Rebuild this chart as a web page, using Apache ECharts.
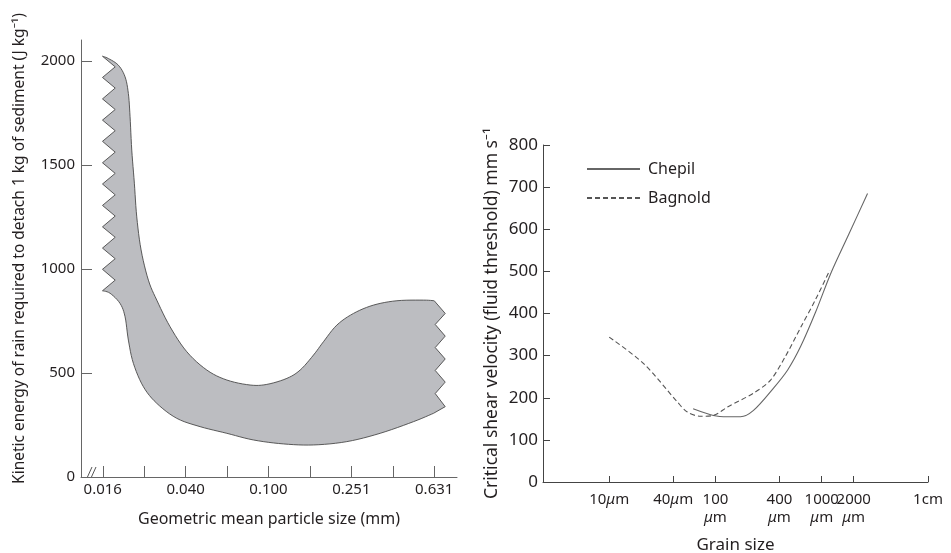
<!DOCTYPE html>
<html><head><meta charset="utf-8">
<script src="https://cdn.jsdelivr.net/npm/echarts@6/dist/echarts.min.js"></script>
<style>html,body{margin:0;padding:0;background:#fff}#c{width:951px;height:553px}</style>
</head><body><div id="c"></div>
<script>
// ---------- Left panel: band of kinetic energy (x in mm, y in J/kg) ----------
// upper boundary, left -> right
const upperMM = [0.0158, 0.01687, 0.01885, 0.02031, 0.02107, 0.02147, 0.02188, 0.02252, 0.02313, 0.02427, 0.02632, 0.02889, 0.0335, 0.04033, 0.05039, 0.06294, 0.08153, 0.09817, 0.1227, 0.1422, 0.1649, 0.1842, 0.2138, 0.2572, 0.3212, 0.4168, 0.5602, 0.631];
const upperE  = [2022, 2011, 1979, 1923, 1843, 1731, 1571, 1412, 1250, 1091, 946, 850, 722, 602, 514, 466, 442, 445, 474, 514, 586, 650, 730, 786, 826, 847, 850, 847];
// right broken edge, top -> bottom
const rightEdgeMM = [0.713, 0.638, 0.713, 0.638, 0.713, 0.638, 0.713, 0.638, 0.713];
const rightEdgeE  = [786, 733, 677, 622, 567, 512, 456, 401, 338];
// lower boundary, right -> left (ends at the lower-left tip)
const lowerMM = [0.626, 0.5012, 0.346, 0.2389, 0.1649, 0.1181, 0.08457, 0.06294, 0.04677, 0.03608, 0.02889, 0.02489, 0.02228, 0.02107, 0.02031, 0.01921, 0.01719, 0.0158];
const lowerE  = [306, 266, 210, 170, 154, 159, 178, 210, 242, 282, 354, 434, 546, 658, 770, 834, 883, 895];
// left broken edge, bottom -> top
const leftEdgeMM = [0.0182, 0.0158, 0.0182, 0.0158, 0.0182, 0.0158, 0.0182, 0.0158, 0.0182, 0.0158, 0.0182, 0.0158, 0.0182, 0.0158, 0.0182, 0.0158, 0.0182, 0.0158, 0.0182, 0.0158, 0.0182];
const leftEdgeE  = [946, 998, 1049, 1100, 1152, 1202, 1254, 1305, 1356, 1408, 1459, 1510, 1561, 1613, 1664, 1715, 1766, 1817, 1869, 1920, 1971];

const leftXTickLog = [-1.8, -1.6, -1.4, -1.2, -1.0, -0.8, -0.6, -0.4, -0.2];
const leftXLabelLog = [-1.8, -1.4, -1.0, -0.6, -0.2];
const leftXLabels = ['0.016', '0.040', '0.100', '0.251', '0.631'];
const leftYTicks = [0, 500, 1000, 1500, 2000];

// ---------- Right panel: critical shear velocity (x in µm, y in mm/s) ----------
const chepilUm = [61.6, 95.7, 130, 172, 228, 352, 478, 634, 878, 1216, 1797, 2698];
const chepilV  = [174, 158, 155, 155, 170, 223, 266, 322, 404, 495, 588, 685];
const bagnoldUm = [10, 21.1, 43.8, 54.4, 72.2, 95.7, 129.8, 228, 330, 457, 634, 878, 1190];
const bagnoldV  = [344, 281, 190, 166, 156, 158, 178, 211, 242, 299, 367, 434, 503];

const rightXTickUm = [10, 40, 100, 400, 1000, 2000, 10000];
const rightXLabels = ['10μm', '40μm', '100\nμm', '400\nμm', '1000\nμm', '2000\nμm', '1cm'];
const rightYTicks = [0, 100, 200, 300, 400, 500, 600, 700, 800];

const FONT = 'Noto Sans';
const TXT = '#231f20';
const lg = Math.log10;

// Catmull-Rom densification in pixel space (for a smooth outline)
function spline(pts, n) {
  const out = [];
  for (let i = 0; i < pts.length - 1; i++) {
    const p0 = pts[Math.max(i - 1, 0)], p1 = pts[i], p2 = pts[i + 1], p3 = pts[Math.min(i + 2, pts.length - 1)];
    for (let s = 0; s < n; s++) {
      const t = s / n, t2 = t * t, t3 = t2 * t;
      out.push([0, 1].map(k => 0.5 * ((2 * p1[k]) + (-p0[k] + p2[k]) * t +
        (2 * p0[k] - 5 * p1[k] + 4 * p2[k] - p3[k]) * t2 + (-p0[k] + 3 * p1[k] - 3 * p2[k] + p3[k]) * t3)));
    }
  }
  out.push(pts[pts.length - 1]);
  return out;
}

function matchLabel(v, vals, labels) {
  for (let i = 0; i < vals.length; i++) if (Math.abs(vals[i] - v) < 1e-6) return labels[i];
  return '';
}

const chart = echarts.init(document.getElementById('c'), null, {renderer: 'canvas'});
const option = {
  backgroundColor: '#fff',
  animation: false,
  textStyle: {fontFamily: FONT, color: TXT},
  grid: [
    {left: 81, width: 376, top: 40, bottom: 76, outerBoundsMode: 'none', containLabel: false},
    {left: 543, width: 385, top: 145, bottom: 71, outerBoundsMode: 'none', containLabel: false}
  ],
  legend: {
    data: ['Chepil', 'Bagnold'],
    orient: 'vertical', left: 581, top: 156,
    itemWidth: 53, itemHeight: 12, itemGap: 13,
    itemStyle: {opacity: 0},
    textStyle: {fontFamily: FONT, fontSize: 16, color: TXT, padding: [0, 0, 0, 3]}
  },
  xAxis: [
    {
      gridIndex: 0, type: 'value', min: -1.905, max: -0.09,
      name: 'Geometric mean particle size (mm)', nameLocation: 'middle', nameGap: 34,
      nameTextStyle: {fontFamily: FONT, fontSize: 16, color: TXT},
      axisLine: {show: true, lineStyle: {color: '#666', width: 1}},
      axisTick: {show: true, inside: true, length: 11, customValues: leftXTickLog, lineStyle: {color: '#666'}},
      axisLabel: {show: true, margin: 5, fontSize: 15, color: TXT, fontFamily: FONT, customValues: leftXLabelLog,
        formatter: v => matchLabel(v, leftXLabelLog, leftXLabels)},
      splitLine: {show: false}
    },
    {
      gridIndex: 1, type: 'value', min: 0.377, max: 4,
      name: 'Grain size', nameLocation: 'middle', nameGap: 55,
      nameTextStyle: {fontFamily: FONT, fontSize: 17, color: TXT},
      axisLine: {show: true, lineStyle: {color: '#444', width: 1}},
      axisTick: {show: true, inside: true, length: 6, customValues: rightXTickUm.map(lg), lineStyle: {color: '#444'}},
      axisLabel: {show: true, margin: 9, fontSize: 15, color: TXT, fontFamily: FONT, lineHeight: 18,
        customValues: rightXTickUm.map(lg),
        formatter: v => matchLabel(v, rightXTickUm.map(lg), rightXLabels).replace(/μ/g, '{i|μ}'),
        rich: {i: {fontStyle: 'italic', fontSize: 15, fontFamily: FONT, color: TXT, lineHeight: 18}}},
      splitLine: {show: false}
    }
  ],
  yAxis: [
    {
      gridIndex: 0, type: 'value', min: 0, max: 2100,
      name: 'Kinetic energy of rain required to detach 1 kg of sediment (J kg⁻¹)',
      nameLocation: 'middle', nameGap: 53, nameRotate: 90,
      nameTextStyle: {fontFamily: FONT, fontSize: 15.5, color: TXT, padding: [0, 0, 0, 20]},
      axisLine: {show: true, lineStyle: {color: '#666', width: 1}},
      axisTick: {show: true, inside: true, length: 11, customValues: leftYTicks, lineStyle: {color: '#666'}},
      axisLabel: {show: true, margin: 6, fontSize: 15, color: TXT, fontFamily: FONT, customValues: leftYTicks,
        formatter: v => String(v)},
      splitLine: {show: false}
    },
    {
      gridIndex: 1, type: 'value', min: 0, max: 800,
      name: 'Critical shear velocity (fluid threshold) mm s⁻¹',
      nameLocation: 'middle', nameGap: 42, nameRotate: 90,
      nameTextStyle: {fontFamily: FONT, fontSize: 17.5, color: TXT},
      axisLine: {show: true, lineStyle: {color: '#444', width: 1}},
      axisTick: {show: true, inside: true, length: 7, customValues: rightYTicks, lineStyle: {color: '#444'}},
      axisLabel: {show: true, margin: 5, fontSize: 17, color: TXT, fontFamily: FONT, customValues: rightYTicks,
        formatter: v => String(v)},
      splitLine: {show: false}
    }
  ],
  series: [
    {
      type: 'custom', xAxisIndex: 0, yAxisIndex: 0, silent: true,
      data: [[lg(upperMM[0]), upperE[0]]],
      renderItem: function (params, api) {
        const c = (xs, ys) => xs.map((x, i) => api.coord([lg(x), ys[i]]));
        const pts = [].concat(
          spline(c(upperMM, upperE), 6),
          c(rightEdgeMM, rightEdgeE),
          spline(c(lowerMM, lowerE), 6),
          c(leftEdgeMM, leftEdgeE)
        );
        return {type: 'polygon', shape: {points: pts},
          style: {fill: '#bcbdc1', stroke: '#4a4a4a', lineWidth: 0.9}};
      }
    },
    {
      name: 'Chepil', type: 'line', xAxisIndex: 1, yAxisIndex: 1,
      data: chepilUm.map((u, i) => [lg(u), chepilV[i]]),
      symbol: 'none', smooth: 0.3,
      lineStyle: {color: '#666', width: 1.1, type: 'solid'}, itemStyle: {color: '#666'}
    },
    {
      name: 'Bagnold', type: 'line', xAxisIndex: 1, yAxisIndex: 1,
      data: bagnoldUm.map((u, i) => [lg(u), bagnoldV[i]]),
      symbol: 'none', smooth: 0.3,
      lineStyle: {color: '#555', width: 1.1, type: [5, 3]}, itemStyle: {color: '#555'}
    }
  ]
};
chart.setOption(option);

// axis break mark on the left x axis, placed from the axis' own scale
const o = chart.convertToPixel({xAxisIndex: 0, yAxisIndex: 0}, [-1.905, 0]);
chart.setOption({
  graphic: [
    {type: 'line', shape: {x1: o[0] + 6, y1: o[1] + 1, x2: o[0] + 11, y2: o[1] - 10}, style: {stroke: '#555', lineWidth: 1}},
    {type: 'line', shape: {x1: o[0] + 10, y1: o[1] + 1, x2: o[0] + 15, y2: o[1] - 10}, style: {stroke: '#555', lineWidth: 1}}
  ]
});
</script>
</body></html>
